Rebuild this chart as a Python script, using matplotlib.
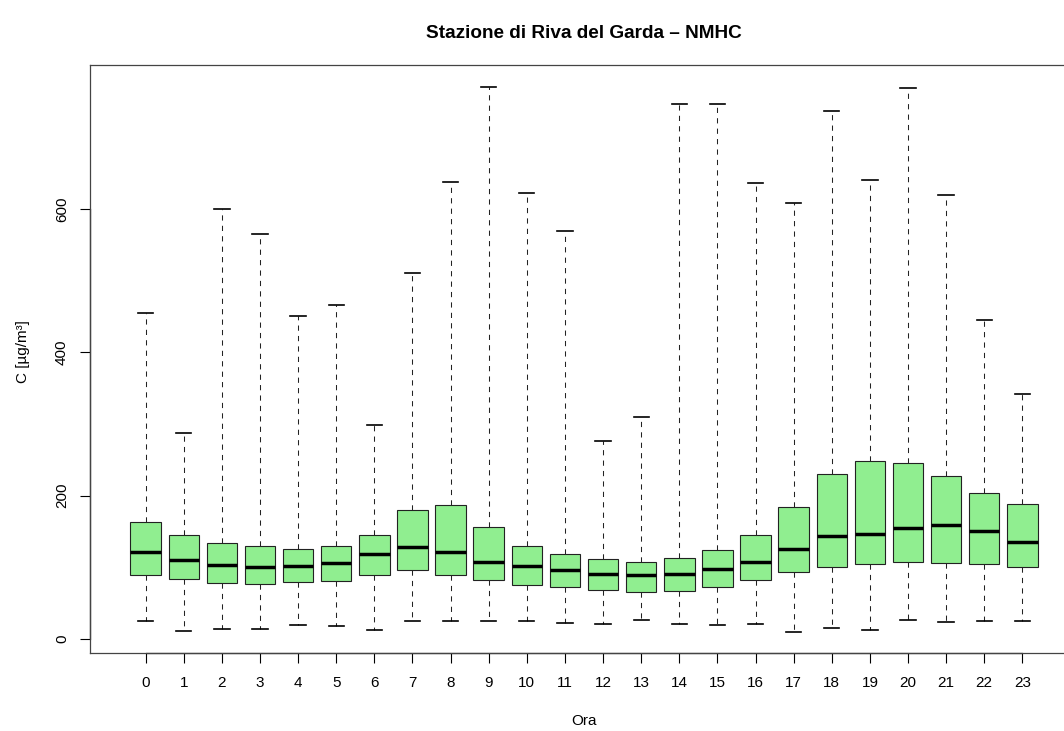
import matplotlib
matplotlib.use("Agg")
import matplotlib.pyplot as plt

plt.rcParams["font.family"] = ["Liberation Sans", "DejaVu Sans"]

# hourly NMHC concentrations at Riva del Garda
hours = list(range(24))
whis_lo = [25.6, 11.6, 14.0, 14.0, 19.5, 18.1, 13.0, 25.6, 25.6, 25.6, 25.6, 22.8,
           21.4, 27.0, 21.4, 19.5, 21.4, 10.2, 15.8, 13.0, 27.0, 24.2, 25.6, 25.6]
q1 = [89.8, 83.7, 78.6, 76.7, 79.1, 80.5, 88.8, 96.7, 89.8, 81.8, 74.9, 72.6,
      68.8, 65.1, 67.0, 72.1, 82.3, 93.0, 100.5, 105.1, 107.0, 106.0, 104.2, 100.5]
medians = [121.9, 110.7, 102.8, 100.0, 101.9, 105.6, 118.1, 128.8, 121.9, 106.9, 101.4, 96.7,
           91.2, 88.8, 91.2, 98.1, 106.9, 125.6, 143.3, 146.9, 154.4, 159.0, 150.2, 135.8]
q3 = [163.7, 144.6, 134.0, 129.3, 126.0, 130.2, 144.6, 179.5, 187.4, 155.8, 130.2, 118.1,
      112.1, 107.0, 113.0, 123.7, 145.1, 184.2, 229.8, 247.9, 245.6, 227.0, 203.2, 187.9]
whis_hi = [454.9, 287.9, 600.0, 565.6, 450.7, 466.0, 299.0, 511.0, 638.0, 770.6, 622.8, 569.3,
           276.3, 310.2, 747.0, 747.0, 636.7, 608.4, 736.7, 640.9, 768.8, 619.5, 445.5, 342.3]
y_ticks = [0, 200, 400, 600]

W, H = 1064, 731
fig = plt.figure(figsize=(W / 100, H / 100), dpi=100)
# plot region runs past the right edge of the image, as in the reference
left, right, top, bottom = 90, 1078, 64.7, 653.3
ax = fig.add_axes([left / W, 1 - bottom / H, (right - left) / W, (bottom - top) / H])

stats = [
    dict(med=m, q1=a, q3=b, whislo=lo, whishi=hi, fliers=[])
    for m, a, b, lo, hi in zip(medians, q1, q3, whis_lo, whis_hi)
]
ax.bxp(
    stats, positions=hours, widths=0.8, patch_artist=True, showfliers=False,
    boxprops=dict(facecolor="#90EE90", edgecolor="#222222", linewidth=0.8),
    medianprops=dict(color="black", linewidth=2.5, solid_capstyle="butt"),
    whiskerprops=dict(color="#222222", linewidth=0.75, linestyle=(0, (5, 5))),
    capprops=dict(color="black", linewidth=1.2),
    capwidths=0.4,
)

ax.set_xlim(-1.46, 24.46)
ax.set_ylim(-20, 801.4)
ax.set_xticks(hours)
ax.set_xticklabels([str(h) for h in hours])
ax.set_yticks(y_ticks)
ax.set_yticklabels([str(v) for v in y_ticks], rotation=90, va="center")
ax.tick_params(axis="both", length=7.2, width=0.8, color="black", labelsize=11)
ax.tick_params(axis="x", pad=9.1)
ax.tick_params(axis="y", pad=8)

for sp in ax.spines.values():
    sp.set_color("#444444")
    sp.set_linewidth(0.9)

# R-style axis lines spanning only the ticks
ax.plot([hours[0], hours[-1]], [0, 0], color="black", lw=0.9,
        transform=ax.get_xaxis_transform(), clip_on=False)
ax.plot([0, 0], [y_ticks[0], y_ticks[-1]], color="black", lw=0.9,
        transform=ax.get_yaxis_transform(), clip_on=False)

fig.text(584 / W, 1 - 33 / H, "Stazione di Riva del Garda \u2013 NMHC",
         ha="center", va="center", fontsize=13.7, fontweight="bold")
fig.text(584 / W, 1 - 721 / H, "Ora", ha="center", va="center", fontsize=11)
fig.text(23 / W, 1 - 352 / H, "C [\u00b5g/m\u00b3]", ha="center", va="center",
         rotation=90, fontsize=11)

fig.savefig("out.png", dpi=100)
